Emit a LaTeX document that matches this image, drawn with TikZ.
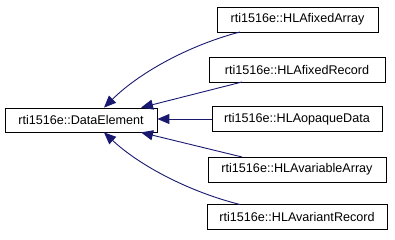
\documentclass[tikz,border=0pt]{standalone}
\usepackage{fontspec}
\setmainfont{Liberation Sans}
\usetikzlibrary{arrows.meta}
\definecolor{edgeblue}{RGB}{25,25,112}
\tikzset{
  classbox/.style={draw=black, line width=0.8pt, fill=white, inner sep=0pt,
    minimum height=25pt, font=\fontsize{12.6}{14}\selectfont},
  inherit/.style={draw=edgeblue, line width=0.9pt,
    -{Triangle[length=12pt,width=10pt,fill=edgeblue]}}
}
\begin{document}
\begin{tikzpicture}[x=1pt,y=-1pt]
\useasboundingbox (0,0) rectangle (395,240);
\node[classbox, minimum width=152pt, minimum height=24pt] (base) at (81,120) {rti1516e::DataElement};
\node[classbox, minimum width=161pt] (fa) at (297.5,19.5) {rti1516e::HLAfixedArray};
\node[classbox, minimum width=176pt] (fr) at (297,69.5) {rti1516e::HLAfixedRecord};
\node[classbox, minimum width=170pt] (od) at (297,119) {rti1516e::HLAopaqueData};
\node[classbox, minimum width=178pt] (va) at (297,169.5) {rti1516e::HLAvariableArray};
\node[classbox, minimum width=180pt] (vr) at (297,217) {rti1516e::HLAvariantRecord};
\coordinate (faS) at (240,32);
\coordinate (frS) at (242,82);
\coordinate (vaS) at (242,157);
\coordinate (vrS) at (240,204.5);
\coordinate (t1) at (104,107.6);
\coordinate (t2) at (141,107.6);
\coordinate (t4) at (141,132.4);
\coordinate (t5) at (104,132.4);
\draw[inherit] (faS) .. controls (190,45) and (140,72) .. (t1);
\draw[inherit] (frS) -- (t2);
\draw[inherit] (od.west) -- (base.east |- od.west);
\draw[inherit] (vaS) -- (t4);
\draw[inherit] (vrS) .. controls (190,192) and (140,166) .. (t5);
\end{tikzpicture}
\end{document}
